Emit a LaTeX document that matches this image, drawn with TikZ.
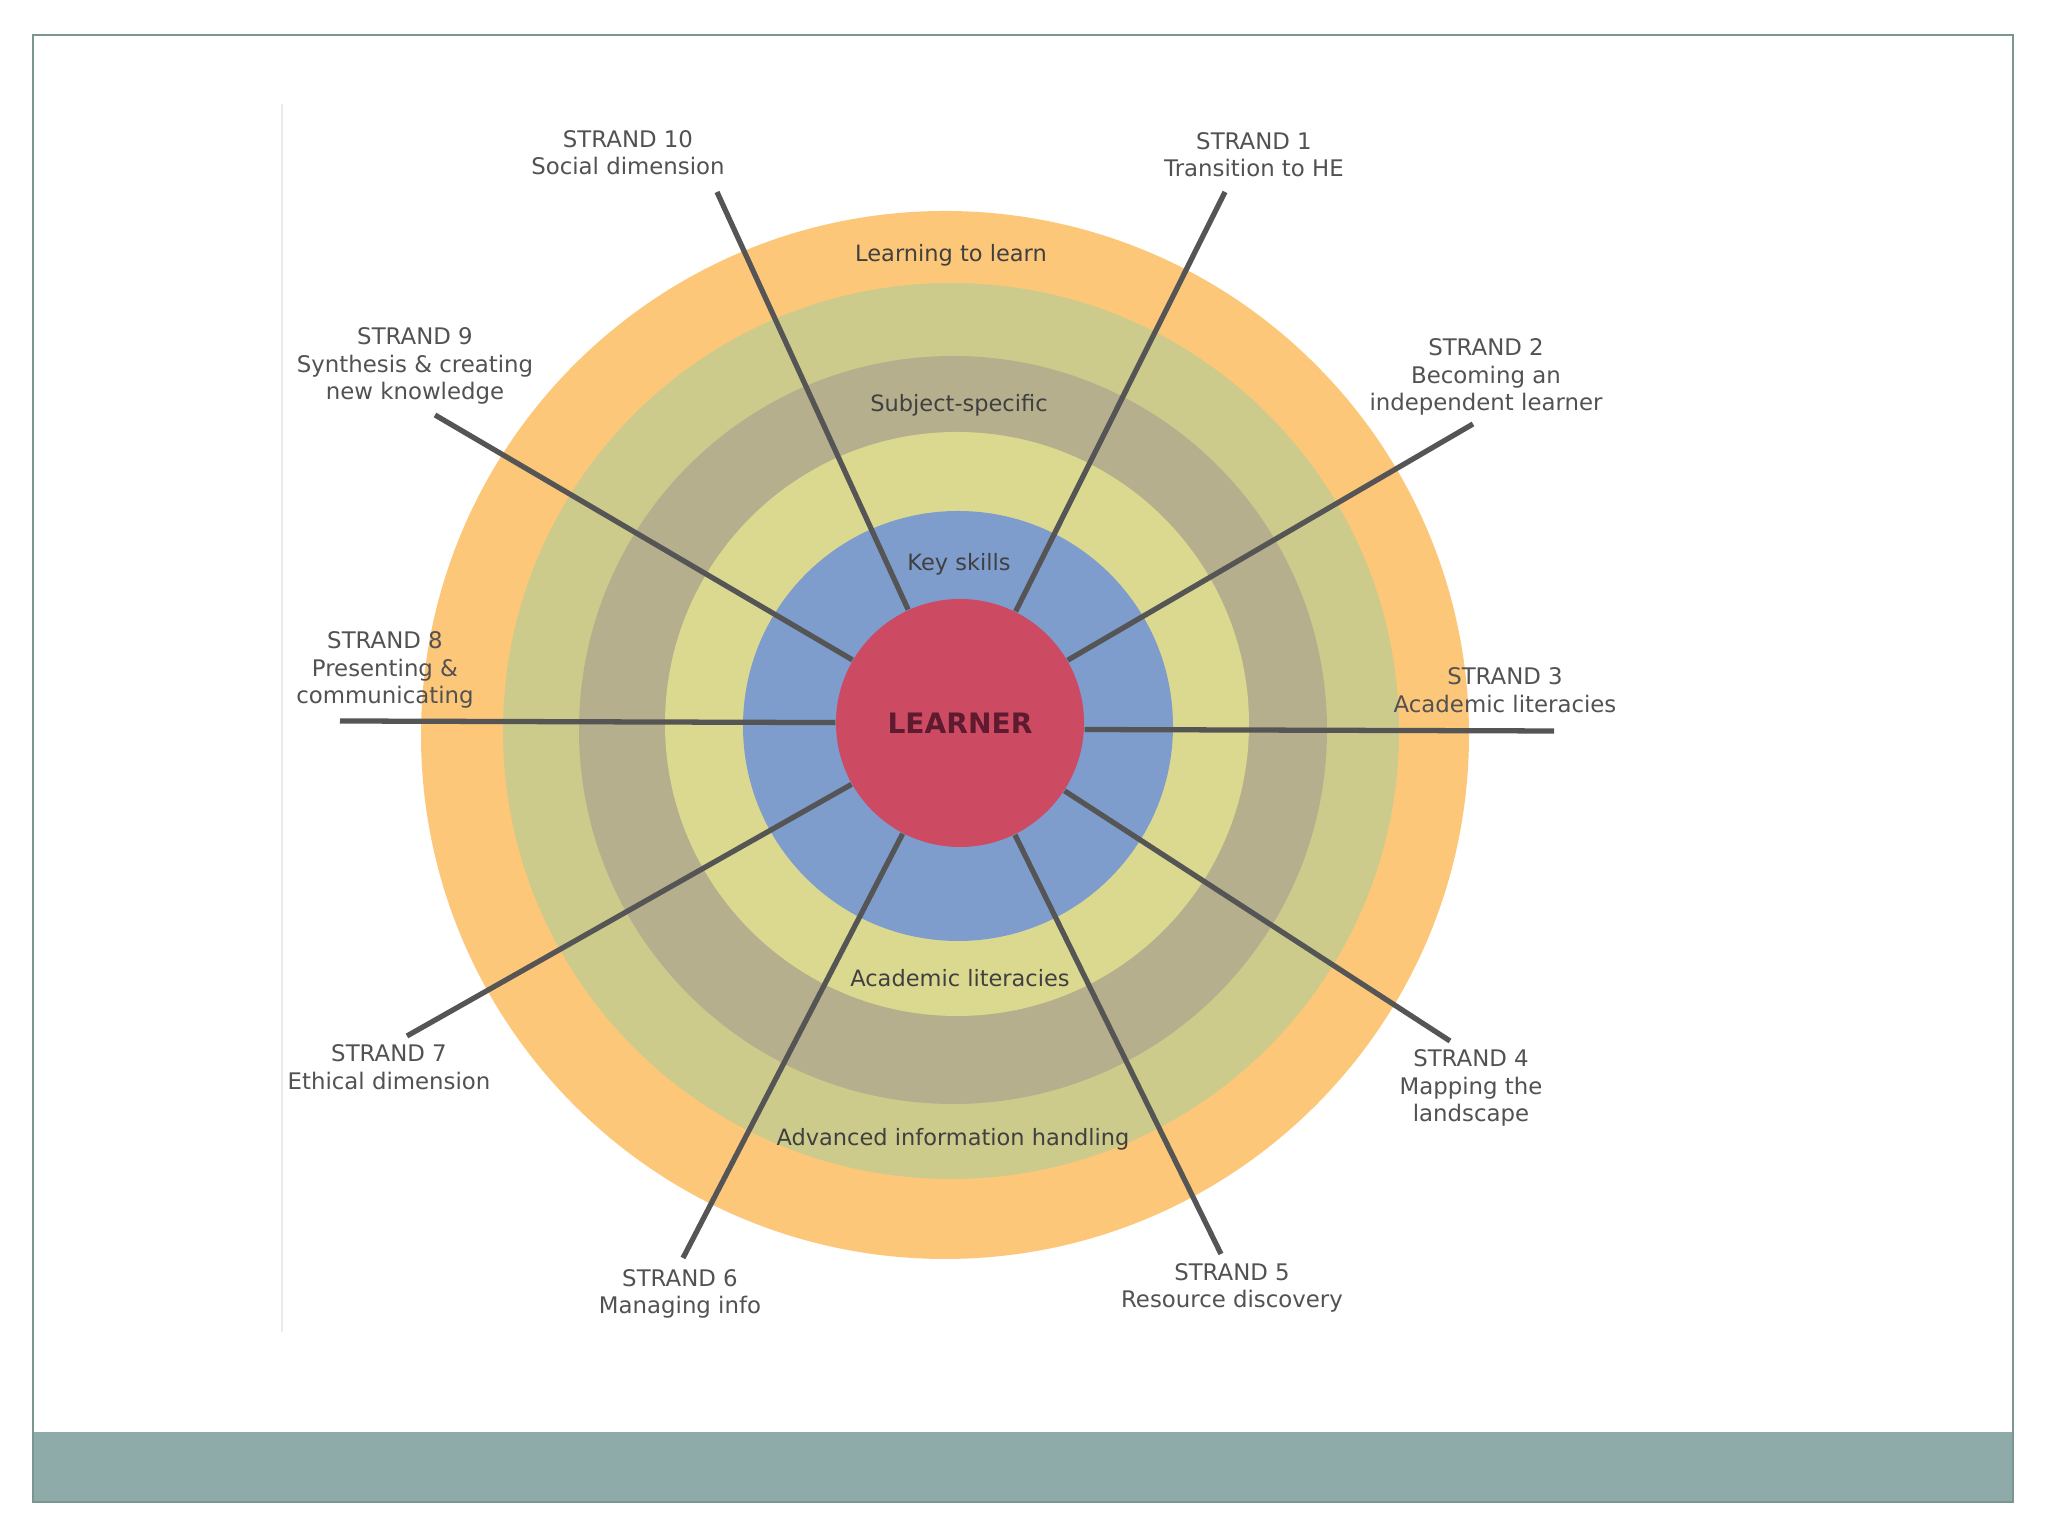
\documentclass[tikz,border=0pt]{standalone}
\usepackage{fontspec}
\setmainfont{DejaVu Sans}
\definecolor{ringorange}{HTML}{FDC77A}
\definecolor{ringgreen}{HTML}{CCCB8B}
\definecolor{ringtan}{HTML}{B5AF8D}
\definecolor{ringlemon}{HTML}{DAD98F}
\definecolor{ringblue}{HTML}{7E9CCC}
\definecolor{learnerred}{HTML}{CC4A62}
\definecolor{learnertext}{HTML}{5E1A2E}
\definecolor{spokegray}{HTML}{555555}
\definecolor{framegray}{HTML}{7A9691}
\definecolor{bandteal}{HTML}{8FABA9}

\begin{document}
\begin{tikzpicture}[
  strand/.style={align=center,inner sep=1pt,text=black!68,font=\fontsize{6.5}{7.8}\selectfont},
  ringlabel/.style={inner sep=1pt,text=black!75,font=\fontsize{6.4}{7.8}\selectfont},
  spoke/.style={spokegray,line width=1.5pt}]

  \useasboundingbox (0,0) rectangle (20.48,15.36);
  \fill[white] (0,0) rectangle (20.48,15.36);

  \fill[bandteal] (0.33,0.34) rectangle (20.13,1.04);
  \draw[framegray,line width=0.7pt] (0.33,0.34) rectangle (20.13,15.01);
  \draw[black!8,line width=0.4pt] (2.82,14.32)--(2.82,2.04);

  \fill[ringorange] (9.45,8.01) circle (5.24);
  \fill[ringgreen] (9.51,8.05) circle (4.48);
  \fill[ringtan] (9.53,8.06) circle (3.74);
  \fill[ringlemon] (9.57,8.12) circle (2.92);
  \fill[ringblue] (9.58,8.10) circle (2.15);

  \node[circle,fill=learnerred,minimum size=2.48cm,inner sep=0,
        text=learnertext,font=\fontsize{8}{9}\selectfont\bfseries]
        (learner) at (9.60,8.13) {LEARNER};

  \node[ringlabel] (learn) at (9.51,12.81) {Learning to learn};
  \node[ringlabel] (subject) at (9.59,11.31) {Subject-specific};
  \node[ringlabel] (key) at (9.59,9.72) {Key skills};
  \node[ringlabel] (acad) at (9.60,5.58) {Academic literacies};
  \node[ringlabel] (adv) at (9.53,3.97) {Advanced information handling};

  \coordinate (e1) at (12.25,13.44);
  \coordinate (e2) at (14.73,11.12);
  \coordinate (e3) at (15.54,8.05);
  \coordinate (e4) at (14.50,4.95);
  \coordinate (e5) at (12.21,2.82);
  \coordinate (e6) at (6.83,2.78);
  \coordinate (e7) at (4.07,5.00);
  \coordinate (e8) at (3.40,8.15);
  \coordinate (e9) at (4.35,11.21);
  \coordinate (e10) at (7.17,13.44);

  \foreach \i in {1,2,4,5,6,7,8,9,10}
    \draw[spoke] (learner) -- (e\i);
  \draw[spoke] (learner.-3.7) -- (e3);

  \node[strand] (s1) at (12.54,13.81) {STRAND 1\\Transition to HE};
  \node[strand] (s2) at (14.86,11.59) {STRAND 2\\Becoming an\\independent learner};
  \node[strand] (s3) at (15.05,8.46) {STRAND 3\\Academic literacies};
  \node[strand] (s4) at (14.71,4.48) {STRAND 4\\Mapping the\\landscape};
  \node[strand] (s5) at (12.32,2.48) {STRAND 5\\Resource discovery};
  \node[strand] (s6) at (6.80,2.42) {STRAND 6\\Managing info};
  \node[strand] (s7) at (3.89,4.69) {STRAND 7\\Ethical dimension};
  \node[strand] (s8) at (3.85,8.66) {STRAND 8\\Presenting \&\\communicating};
  \node[strand] (s9) at (4.15,11.70) {STRAND 9\\Synthesis \& creating\\new knowledge};
  \node[strand] (s10) at (6.28,13.83) {STRAND 10\\Social dimension};
\end{tikzpicture}
\end{document}
